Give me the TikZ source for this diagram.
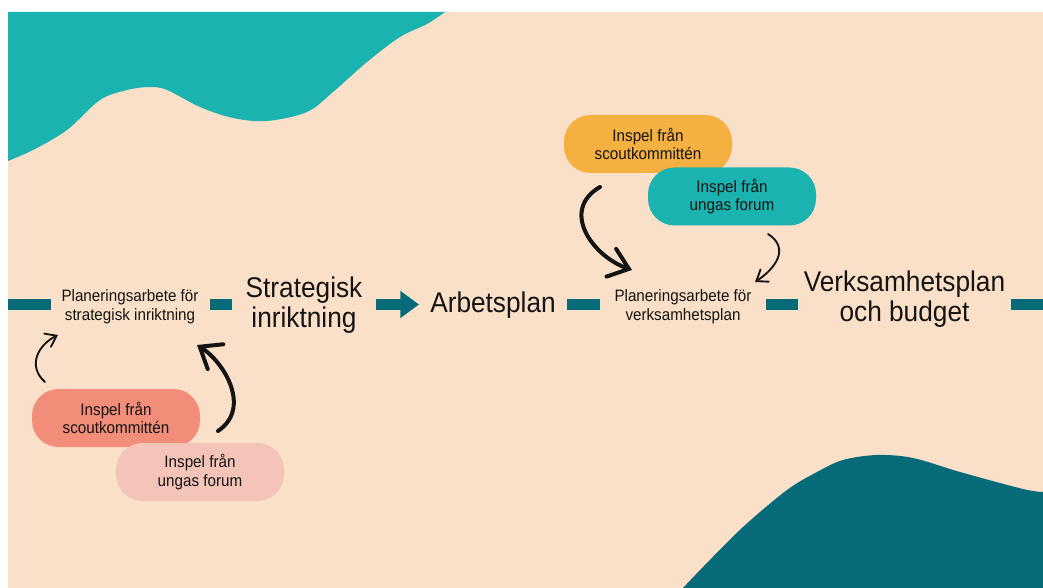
\documentclass[tikz,border=0pt]{standalone}
\usepackage{fontspec}
\setmainfont{Liberation Sans}[FakeStretch=0.92]
\usetikzlibrary{arrows.meta}
\definecolor{bg}{HTML}{FAE0C8}
\definecolor{tealA}{HTML}{1BB3AF}
\definecolor{tealD}{HTML}{076A78}
\definecolor{salmon}{HTML}{F28D7A}
\definecolor{rose}{HTML}{F5C4B9}
\definecolor{amber}{HTML}{F4B040}
\definecolor{ink}{HTML}{141414}
\begin{document}
\begin{tikzpicture}[x=0.75pt,y=-0.75pt,
  smalltxt/.style={font=\fontsize{12.4}{14}\selectfont, align=center, text=ink, inner sep=0pt, outer sep=0pt},
  bigtxt/.style={font=\fontsize{21.4}{22.5}\selectfont, align=center, text=ink, inner sep=0pt, outer sep=0pt},
  blob/.style={smalltxt, rounded corners=20pt, minimum width=126pt, minimum height=43.5pt},
  bar/.style={draw=tealD, line width=8.25pt},
  hand/.style={draw=ink, line cap=round, line join=round},
  bighand/.style={hand, line width=3pt, -{Straight Barb[length=14pt,width=22pt,line cap=round]}},
  smallhand/.style={hand, line width=1.4pt, -{Straight Barb[length=7.5pt,width=11pt,line cap=round]}}]
\useasboundingbox (0,0) rectangle (1043,588);
\fill[white] (0,0) rectangle (1043,588);
\fill[bg] (8,12) rectangle (1043,588);
% top-left wave
\fill[tealA] (8,12) -- (445,12) -- plot[smooth,tension=0.55] coordinates {(445,12) (427,24) (400,37) (367,62) (333,92) (307,112) (267,121) (233,118) (200,107) (167,90) (150,87) (127,90) (100,100) (67,130) (33,150) (8,161)} -- cycle;
% bottom-right wave
\fill[tealD] (683,588) -- plot[smooth,tension=0.55] coordinates {(683,588) (703,567) (743,527) (787,490) (817,472) (843,460) (877,455) (913,458) (960,472) (1023,489) (1043,492)} -- (1043,588) -- cycle;

% main line nodes
\coordinate (L) at (8,304.5);
\coordinate (R) at (1043,304.5);
\node[smalltxt, minimum width=119.25pt] (p1) at (130,306.5) {Planeringsarbete för\\strategisk inriktning};
\node[bigtxt, minimum width=108pt] (s) at (304,305.5) {Strategisk\\inriktning};
\node[bigtxt, minimum width=111pt] (a) at (493,305) {Arbetsplan};
\node[smalltxt, minimum width=124.5pt] (p2) at (683,307) {Planeringsarbete för\\verksamhetsplan};
\node[bigtxt, minimum width=159.75pt] (v) at (904.5,299.5) {Verksamhetsplan\\och budget};

\draw[bar] (L) -- (p1.west |- L);
\draw[bar] (p1.east |- L) -- (s.west |- L);
\draw[bar, -{Triangle[length=14pt,width=19.5pt]}] (s.east |- L) -- (a.west |- L);
\draw[bar] (a.east |- L) -- (p2.west |- L);
\draw[bar] (p2.east |- L) -- (v.west |- L);
\draw[bar] (v.east |- L) -- (R);

% input blobs
\node[blob, fill=salmon] (b1) at (116,418) {Inspel från\\scoutkommittén};
\node[blob, fill=rose] (b2) at (200,472) {Inspel från\\ungas forum};
\node[blob, fill=amber] (b3) at (648,144) {Inspel från\\scoutkommittén};
\node[blob, fill=tealA] (b4) at (732,196.5) {Inspel från\\ungas forum};

% hand-drawn arrows
\coordinate (c1s) at (45,382);
\coordinate (c1t) at (58,335);
\draw[smallhand] (c1s) .. controls (27,366) and (38,345) .. (c1t);
\coordinate (c2s) at (218,431);
\coordinate (c2t) at (197,345);
\draw[bighand] (c2s) .. controls (252,408) and (224,362) .. (c2t);
\coordinate (c3s) at (600,187);
\coordinate (c3t) at (632,270);
\draw[bighand] (c3s) .. controls (560,210) and (592,256) .. (c3t);
\coordinate (c4s) at (768,234);
\coordinate (c4t) at (755,282);
\draw[smallhand] (c4s) .. controls (790,248) and (776,268) .. (c4t);
\end{tikzpicture}
\end{document}
